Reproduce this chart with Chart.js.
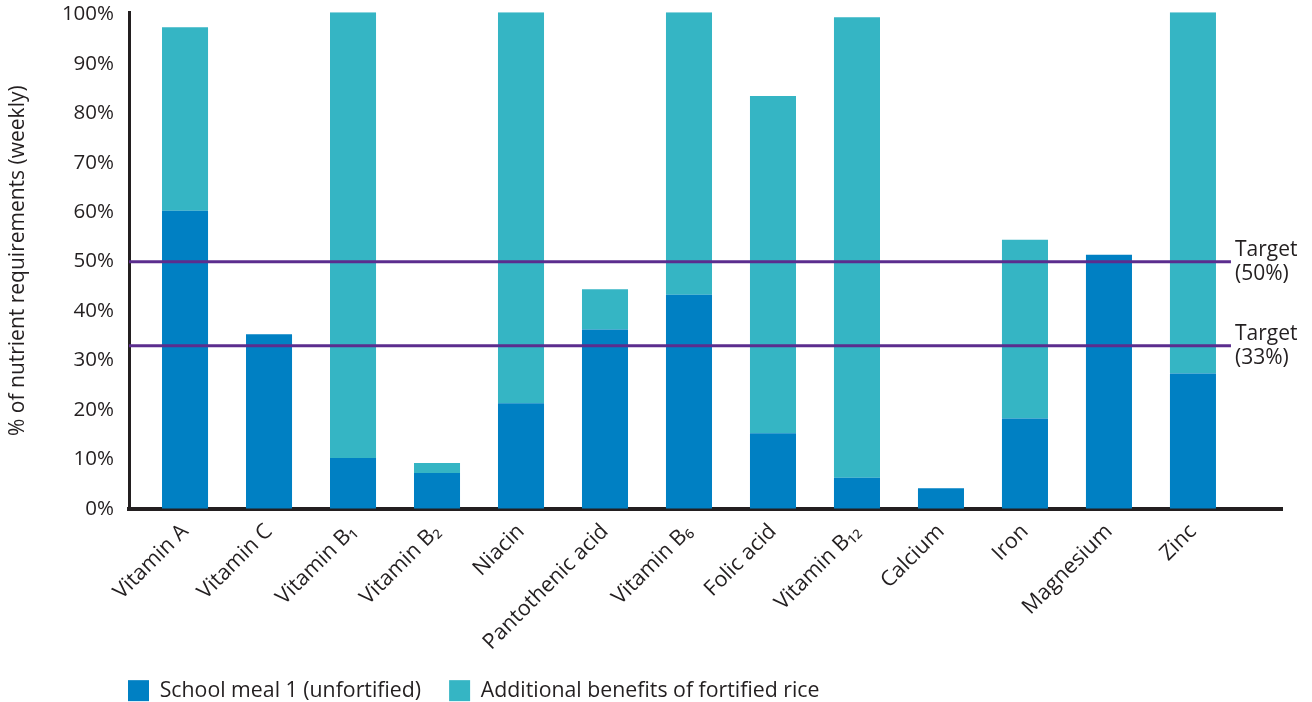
<!DOCTYPE html>
<html><head><meta charset="utf-8">
<script src="https://cdn.jsdelivr.net/npm/chart.js@4/dist/chart.umd.min.js"></script>
<style>html,body{margin:0;padding:0;background:#fff}canvas{display:block}</style>
</head><body>
<canvas id="c" width="1312" height="702"></canvas>
<script>
const CATEGORIES = ['Vitamin A','Vitamin C','Vitamin B\u2081','Vitamin B\u2082','Niacin','Pantothenic acid','Vitamin B\u2086','Folic acid','Vitamin B\u2081\u2082','Calcium','Iron','Magnesium','Zinc'];
const SCHOOL_MEAL = [60.3, 35.3, 10.3, 7.3, 21.4, 36.3, 43.3, 15.3, 6.3, 4.2, 18.3, 51.4, 27.4];
const FORTIFIED_EXTRA = [37.1, 0, 90.1, 2.0, 79.0, 8.1, 57.1, 68.2, 93.1, 0, 36.1, 0, 73.0];
const SERIES_NAMES = ['School meal 1 (unfortified)', 'Additional benefits of fortified rice'];
const TARGETS = [50, 33];
const TARGET_LABELS = [['Target', '(50%)'], ['Target', '(33%)']];
const Y_TICKS = [0, 10, 20, 30, 40, 50, 60, 70, 80, 90, 100];
const Y_TITLE = '% of nutrient requirements (weekly)';

const TEXT = '#231f20';
const BLUE = '#0080c3';
const TEAL = '#35b5c4';
const PURPLE = '#5b2d8e';
const FONT = '"Open Sans", "Noto Sans", sans-serif';

const targetPlugin = {
  id: 'targets',
  afterDatasetsDraw(chart) {
    const {ctx, chartArea, scales} = chart;
    const xEnd = scales.x.getPixelForValue(CATEGORIES.length - 1) + 38;
    ctx.save();
    TARGETS.forEach((t, i) => {
      const y = scales.y.getPixelForValue(t);
      ctx.strokeStyle = PURPLE;
      ctx.lineWidth = 3;
      ctx.beginPath();
      ctx.moveTo(chartArea.left, y);
      ctx.lineTo(xEnd, y);
      ctx.stroke();
      ctx.fillStyle = TEXT;
      ctx.font = '21px ' + FONT;
      ctx.textAlign = 'left';
      ctx.textBaseline = 'middle';
      ctx.fillText(TARGET_LABELS[i][0], xEnd + 4, y - 12);
      ctx.fillText(TARGET_LABELS[i][1], xEnd + 4, y + 12);
    });
    ctx.restore();
  }
};

const legendShift = {
  id: 'legendShift',
  afterLayout(chart) {
    const lg = chart.legend;
    if (!lg) return;
    const pad = lg.options.labels.padding;
    const dx = 128 - (lg.left + pad);
    const dy = 680 - (lg.top + pad);
    lg.left += dx; lg.right += dx;
    lg.top += dy;
    lg.bottom = chart.height;
    lg.height = lg.bottom - lg.top;
  }
};

new Chart(document.getElementById('c'), {
  type: 'bar',
  data: {
    datasets: [
      { label: SERIES_NAMES[0], data: SCHOOL_MEAL.map((v, i) => ({x: i, y: v})), backgroundColor: BLUE, borderWidth: 0 },
      { label: SERIES_NAMES[1], data: FORTIFIED_EXTRA.map((v, i) => ({x: i, y: v})), backgroundColor: TEAL, borderWidth: 0 }
    ]
  },
  options: {
    responsive: false,
    animation: false,
    layout: { padding: { top: 11, right: 30, left: 0, bottom: 0 } },
    datasets: { bar: { barPercentage: 0.548, categoryPercentage: 1 } },
    plugins: {
      tooltip: { enabled: false },
      legend: {
        position: 'bottom',
        align: 'start',
        maxHeight: 20,
        labels: { boxWidth: 21, boxHeight: 21, padding: 28, color: TEXT, font: { family: FONT, size: 21.3 } }
      }
    },
    scales: {
      x: {
        type: 'linear',
        offset: false,
        stacked: true,
        min: -0.667,
        max: 13.06,
        z: 1,
        grid: { display: false, drawTicks: false },
        border: { display: true, color: TEXT, width: 4 },
        afterBuildTicks: (axis) => { axis.ticks = CATEGORIES.map((c, i) => ({ value: i })); },
        afterFit: (scale) => { scale.height = 173; },
        ticks: {
          autoSkip: false, minRotation: 45, maxRotation: 45, padding: 10, color: TEXT,
          font: { family: FONT, size: 21.5 },
          callback: (v) => CATEGORIES[v]
        }
      },
      y: {
        stacked: true,
        min: 0,
        max: 100.4,
        grid: { display: true, color: 'rgba(0,0,0,0)', drawOnChartArea: false, drawTicks: true, tickLength: 15 },
        border: { display: true, color: TEXT, width: 3 },
        afterBuildTicks: (axis) => { axis.ticks = Y_TICKS.map(v => ({ value: v })); },
        afterFit: (scale) => { scale.width = 129; },
        ticks: { padding: 0, color: TEXT, font: { family: FONT, size: 20.5 }, callback: (v) => v + '%' },
        title: { display: true, text: Y_TITLE, color: TEXT, font: { family: FONT, size: 21 }, padding: { top: 5, bottom: 0 } }
      }
    }
  },
  plugins: [targetPlugin, legendShift]
});
</script>
</body></html>
